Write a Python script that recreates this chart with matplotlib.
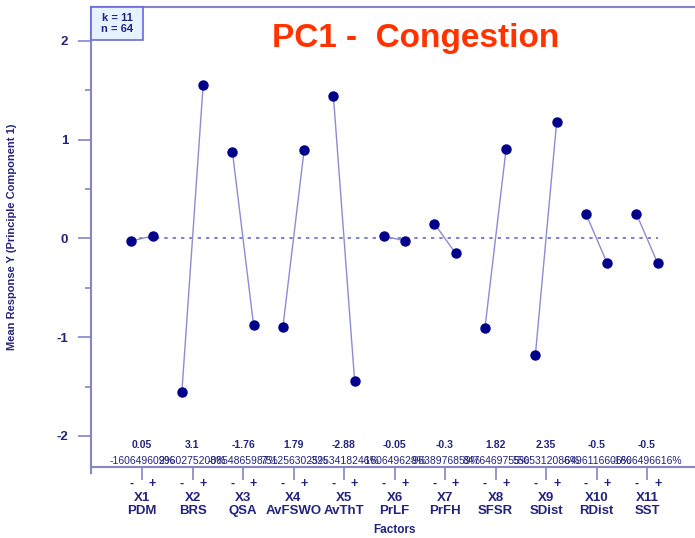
import matplotlib
matplotlib.use('Agg')
import matplotlib.pyplot as plt
from matplotlib.patches import Rectangle

plt.rcParams['font.family'] = ['Liberation Sans', 'DejaVu Sans']
plt.rcParams['axes.unicode_minus'] = False

# Data
factors = ['X1', 'X2', 'X3', 'X4', 'X5', 'X6', 'X7', 'X8', 'X9', 'X10', 'X11']
factor_names = ['PDM', 'BRS', 'QSA', 'AvFSWO', 'AvThT', 'PrLF', 'PrFH', 'SFSR', 'SDist', 'RDist', 'SST']
minus_means = [-0.025, -1.55, 0.88, -0.895, 1.44, 0.025, 0.15, -0.91, -1.175, 0.25, 0.25]
plus_means = [0.025, 1.55, -0.88, 0.895, -1.44, -0.025, -0.15, 0.91, 1.175, -0.25, -0.25]
effects = ['0.05', '3.1', '-1.76', '1.79', '-2.88', '-0.05', '-0.3', '1.82', '2.35', '-0.5', '-0.5']
pct_labels = ['-160649609%', '2960275208%', '-0854865987%', '7512563025%', '-3253418246%',
              '-160649629%', '-9638976859%', '8476469755%', '5505312086%', '-6496116606%',
              '-1606496616%']
k_n_text = 'k = 11\nn = 64'

navy = '#23237e'
axis_col = '#8585c8'
marker_col = '#00008b'
line_col = '#8c8cd0'

fig = plt.figure(figsize=(6.95, 5.38), dpi=100)
ax = fig.add_axes([91/695, 71/538, 604/695, 460/538])

centers = list(range(1, len(factors) + 1))
off = 0.21

for i, c in enumerate(centers):
    ax.plot([c - off, c + off], [minus_means[i], plus_means[i]], color=line_col, lw=1.0, zorder=2)
    ax.plot([c - off, c + off], [minus_means[i], plus_means[i]], 'o', color=marker_col,
            markersize=6.5, zorder=3, linestyle='none')

# zero reference line
ax.hlines(0, centers[0] - off, centers[-1] + off, colors='#6a6acc', linestyles=(0, (2, 3)), lw=1.2, zorder=1)

ax.set_xlim(-0.01, 11.95)
ax.set_ylim(-2.314, 2.344)

# spines
for s in ['left', 'top', 'bottom']:
    ax.spines[s].set_color(axis_col)
    ax.spines[s].set_linewidth(1.5)
ax.spines['right'].set_visible(False)
ax.plot([0, 0], [0, -0.013], transform=ax.transAxes, color=axis_col, lw=1.5, clip_on=False)

# y ticks
ax.set_yticks([-2, -1, 0, 1, 2])
ax.set_yticks([-1.5, -0.5, 0.5, 1.5], minor=True)
ax.tick_params(axis='y', which='major', length=9.5, width=1.2, color=axis_col, pad=7,
               labelsize=9.5, labelcolor=navy)
ax.tick_params(axis='y', which='minor', length=4.5, width=1.2, color=axis_col)
for lbl in ax.get_yticklabels():
    lbl.set_fontweight('bold')

# x ticks
ax.set_xticks(centers)
ax.set_xticklabels([f'{f}\n{n}' for f, n in zip(factors, factor_names)])
ax.tick_params(axis='x', length=9, width=1.2, color=axis_col, pad=9, labelsize=9.5,
               labelcolor=navy)
for lbl in ax.get_xticklabels():
    lbl.set_fontweight('bold')
    lbl.set_linespacing(1.15)

for i, c in enumerate(centers):
    ax.annotate('-', xy=(c - off, 0), xycoords=('data', 'axes fraction'), xytext=(0, -12),
                textcoords='offset points', ha='center', va='center', fontsize=9,
                fontweight='bold', color=navy)
    ax.annotate('+', xy=(c + off, 0), xycoords=('data', 'axes fraction'), xytext=(0, -12),
                textcoords='offset points', ha='center', va='center', fontsize=9,
                fontweight='bold', color=navy)
    ax.annotate(effects[i], xy=(c, 22/460), xycoords=('data', 'axes fraction'),
                ha='center', va='center', fontsize=7.5, fontweight='bold', color=navy)
    ax.annotate(pct_labels[i], xy=(c, 6/460), xycoords=('data', 'axes fraction'),
                ha='center', va='center', fontsize=7.5, color=navy)

ax.set_ylabel('Mean Response Y (Principle Component 1)', fontsize=8, fontweight='bold',
              color=navy, labelpad=20)
ax.yaxis.set_label_coords(-74/604, 0.5)
fig.text(395/695, 1 - 530/538, 'Factors', ha='center', va='center', fontsize=8.5,
         fontweight='bold', color=navy)

# k / n box
ax.add_patch(Rectangle((0, 1 - 33/460), 52/604, 33/460, transform=ax.transAxes,
                       facecolor='#e6f2ff', edgecolor='#6a6ae0', lw=1.2, zorder=4, clip_on=False))
ax.text(26/604, 1 - 16.5/460, k_n_text, transform=ax.transAxes, ha='center', va='center',
        fontsize=8, fontweight='bold', color=navy, linespacing=1.1, zorder=5)

fig.text(416/695, 1 - 38/538, 'PC1 -  Congestion', ha='center', va='center', fontsize=24,
         fontweight='bold', color='#ff3300')

fig.savefig('out.png', dpi=100)
